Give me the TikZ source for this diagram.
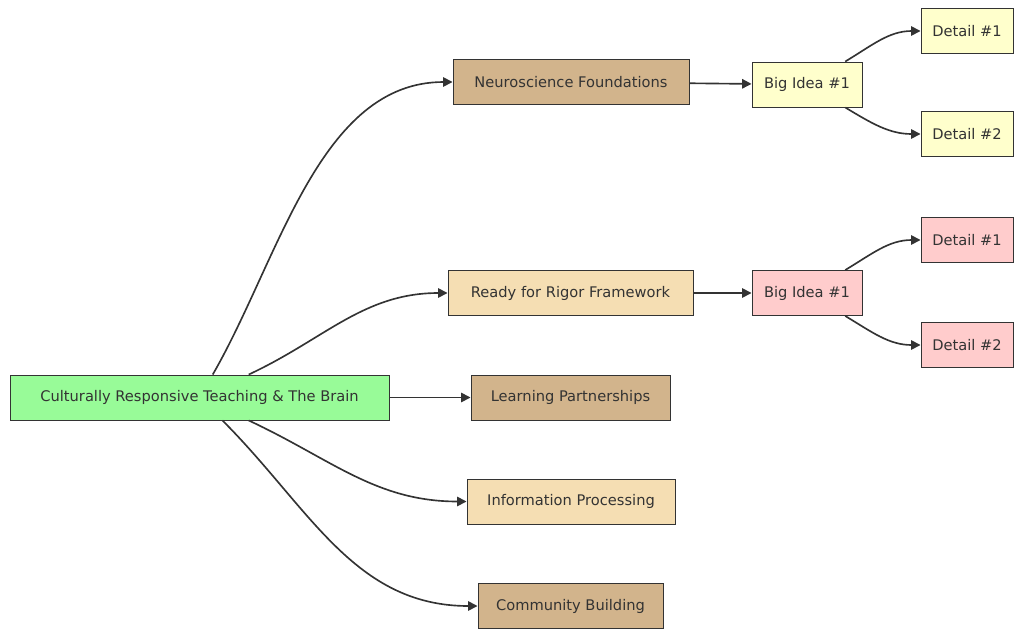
\documentclass[tikz,border=0pt]{standalone}
\usepackage{fontspec}
\setmainfont{DejaVu Sans}
\usetikzlibrary{arrows.meta}
\definecolor{rootgreen}{HTML}{98FB98}
\definecolor{tanfill}{HTML}{D2B48C}
\definecolor{wheatfill}{HTML}{F5DEB3}
\definecolor{yellowfill}{HTML}{FFFFCC}
\definecolor{pinkfill}{HTML}{FFCCCC}
\definecolor{edgegray}{HTML}{333333}
\tikzset{
  box/.style={draw=edgegray, line width=0.8pt, inner sep=0pt, minimum height=45*0.03cm,
    font=\fontsize{12.5}{14}\selectfont, text=edgegray},
  link/.style={draw=edgegray, line width=1.4pt, -{Triangle[length=8pt,width=8pt]}},
}
\begin{document}
\begin{tikzpicture}[x=0.03cm, y=-0.03cm]
\useasboundingbox (0,0) rectangle (1024,639);

% main topic
\node[box, fill=rootgreen, minimum width=379*0.03cm] (root) at (199.5,397.5) {Culturally Responsive Teaching \& The Brain};

% branches
\node[box, fill=tanfill, minimum width=236*0.03cm] (neuro) at (571,82) {Neuroscience Foundations};
\node[box, fill=wheatfill, minimum width=245*0.03cm] (rigor) at (570.5,293) {Ready for Rigor Framework};
\node[box, fill=tanfill, minimum width=199*0.03cm] (learn) at (570.5,397.5) {Learning Partnerships};
\node[box, fill=wheatfill, minimum width=208*0.03cm] (info) at (571,501.5) {Information Processing};
\node[box, fill=tanfill, minimum width=185*0.03cm] (comm) at (570.5,606) {Community Building};

% big ideas and details
\node[box, fill=yellowfill, minimum width=110*0.03cm] (ideaA) at (807,84.5) {Big Idea \#1};
\node[box, fill=yellowfill, minimum width=92*0.03cm] (detA1) at (967,31) {Detail \#1};
\node[box, fill=yellowfill, minimum width=92*0.03cm] (detA2) at (967,134) {Detail \#2};
\node[box, fill=pinkfill, minimum width=110*0.03cm] (ideaB) at (807,293) {Big Idea \#1};
\node[box, fill=pinkfill, minimum width=92*0.03cm] (detB1) at (967,240) {Detail \#1};
\node[box, fill=pinkfill, minimum width=92*0.03cm] (detB2) at (967,345) {Detail \#2};

\draw[link] (root) to[out=60, in=180, looseness=0.9] (neuro.west);
\draw[link] (root) to[out=25, in=180] (rigor.west);
\draw[link] (root) -- (learn);
\draw[link] (root) to[out=-25, in=180] (info.west);
\draw[link] (root) to[out=-45, in=180] (comm.west);

\draw[link] (neuro) -- (ideaA);
\draw[link] (ideaA) to[out=31, in=180] (detA1.west);
\draw[link] (ideaA) to[out=-31, in=180] (detA2.west);
\draw[link] (rigor) -- (ideaB);
\draw[link] (ideaB) to[out=31, in=180] (detB1.west);
\draw[link] (ideaB) to[out=-31, in=180] (detB2.west);
\end{tikzpicture}
\end{document}
